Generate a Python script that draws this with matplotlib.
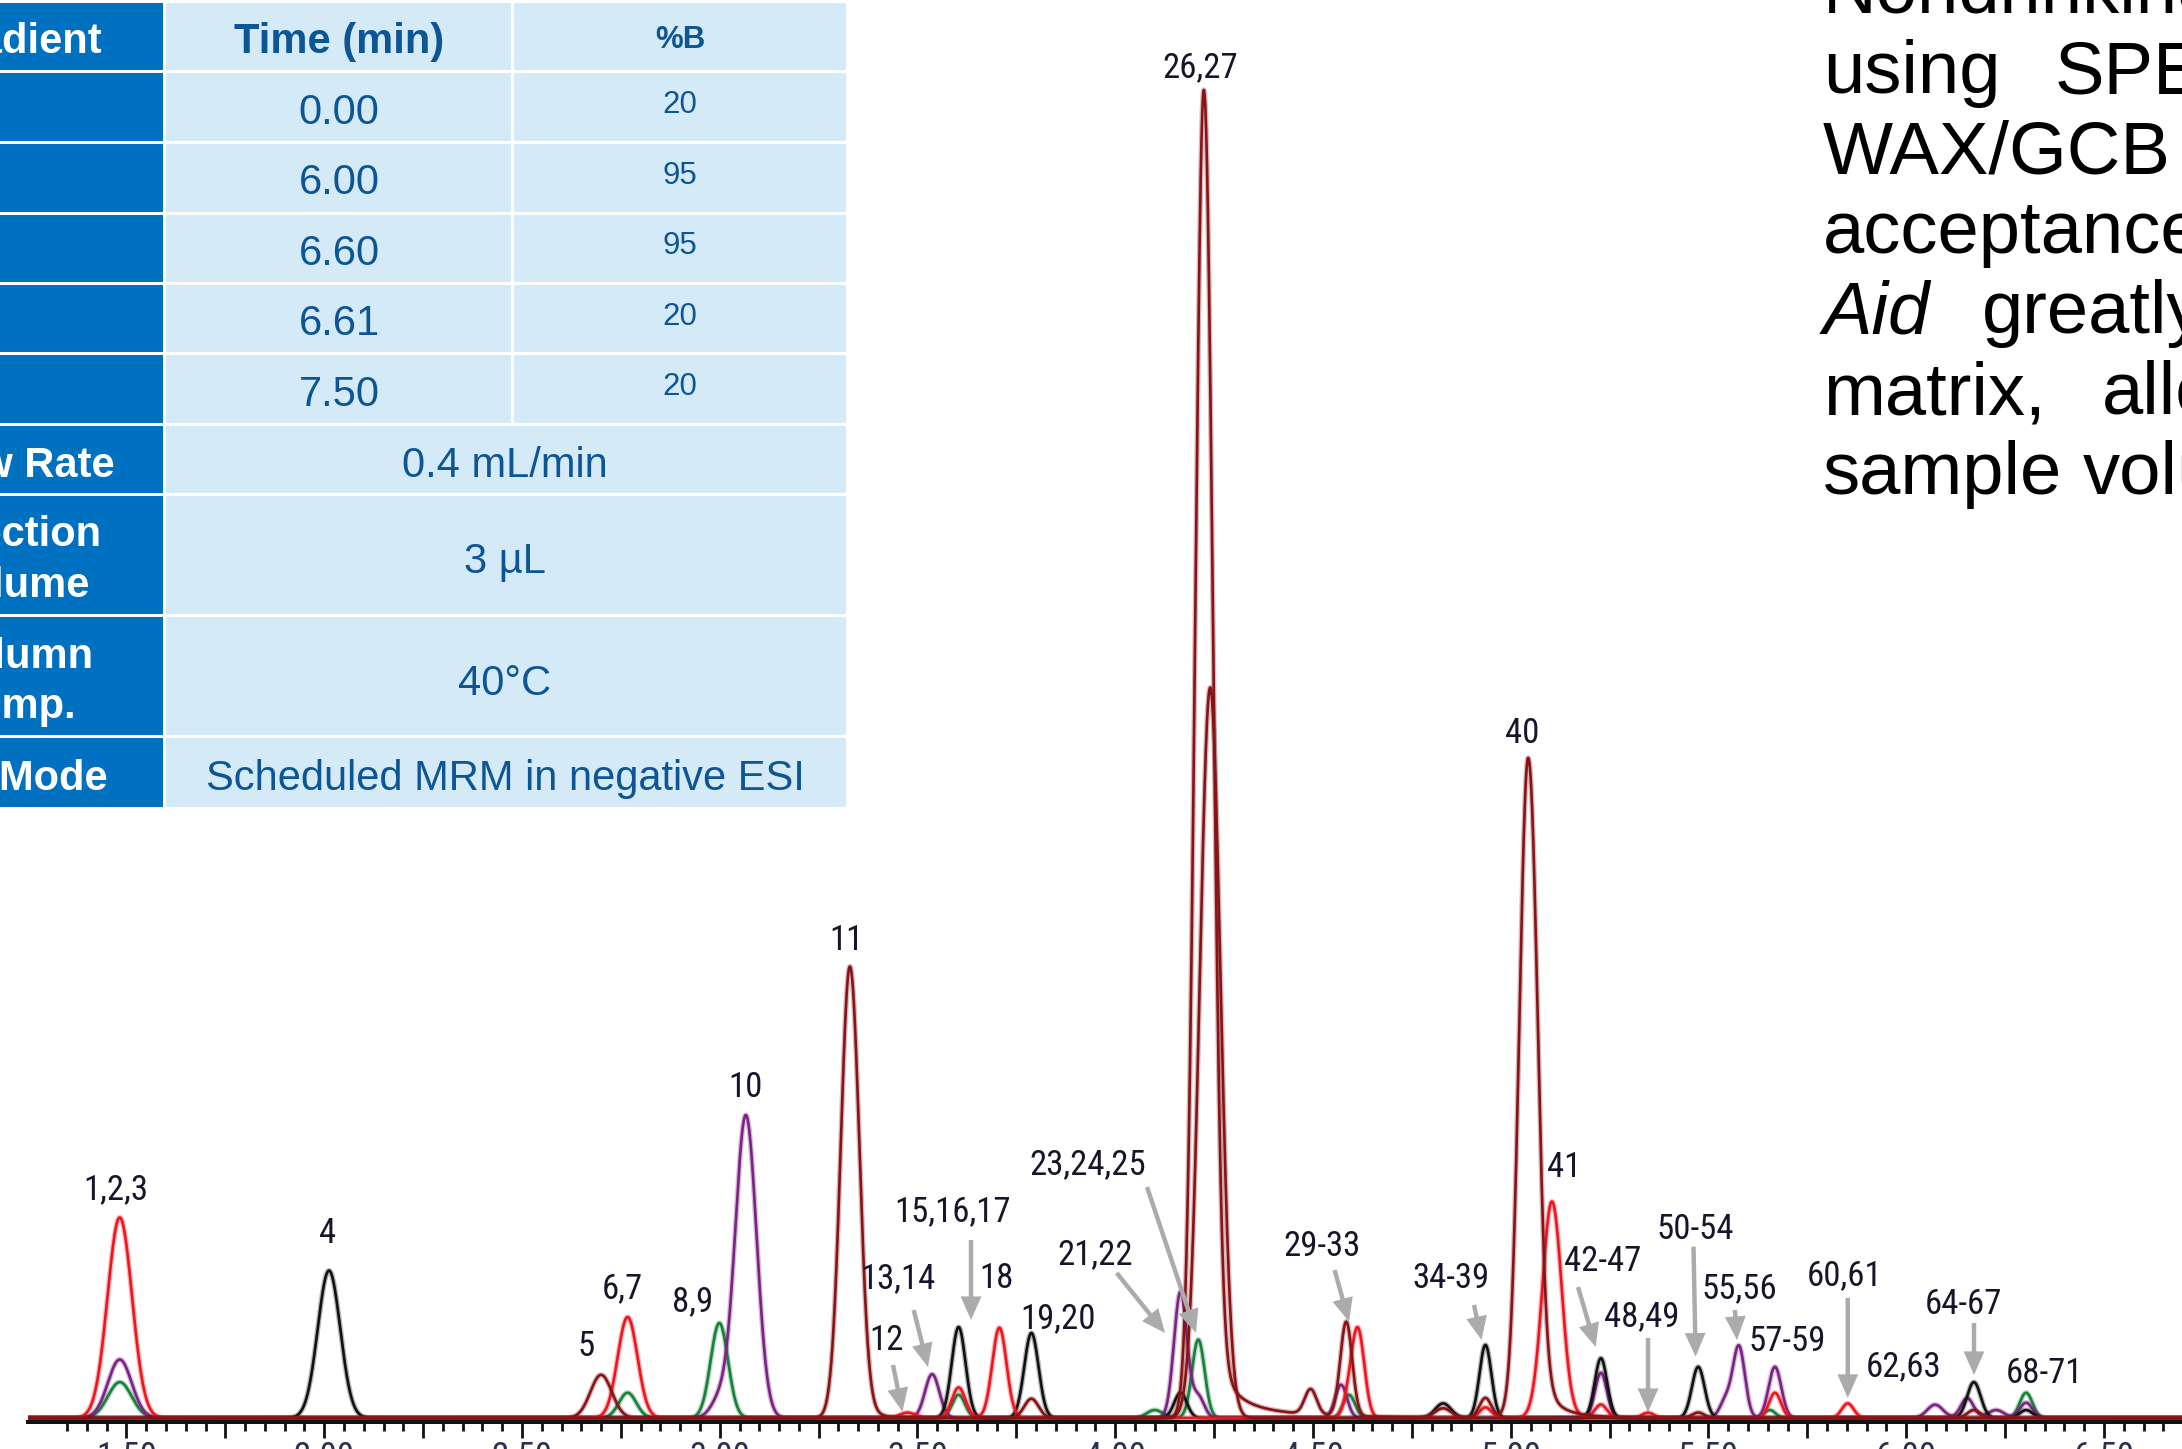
import numpy as np
import matplotlib
matplotlib.use("Agg")
import matplotlib.pyplot as plt
from matplotlib import font_manager
from matplotlib.patches import Rectangle
from matplotlib.ticker import FixedLocator, FuncFormatter

W, H = 2182, 1449

# ---------------- data ----------------
# LC conditions table
grad_time = ["0.00", "6.00", "6.60", "6.61", "7.50"]
grad_pctb = ["20", "95", "95", "20", "20"]
cond_names = ["Flow Rate", "Injection\nVolume", "Column\nTemp.", "MS Mode"]
cond_values = ["0.4 mL/min", "3 µL", "40°C", "Scheduled MRM in negative ESI"]

# paragraph at the right edge (cut off by the crop)
para_words = [["Nondrinking"], ["using", "SPE"], ["WAX/GCB"], ["acceptance"],
              ["Aid", "greatly"], ["matrix,", "allows"], ["sample", "volume"]]

# chromatogram peaks per trace: (retention time min, rel. intensity %, sigma min)
red_peaks = [(1.483, 15.1, 0.031), (2.767, 7.6, 0.025), (3.475, 0.4, 0.02),
             (3.604, 2.3, 0.017), (3.707, 6.8, 0.018), (4.591, 1.2, 0.014),
             (4.614, 6.5, 0.016), (4.936, 0.8, 0.015), (5.104, 16.3, 0.024),
             (5.228, 1.0, 0.015), (5.347, 0.4, 0.015), (5.668, 1.9, 0.015),
             (5.852, 1.1, 0.015)]
black_peaks = [(2.012, 11.1, 0.0285), (3.604, 6.85, 0.0175), (3.788, 6.4, 0.018),
               (4.165, 1.9, 0.016), (4.829, 1.1, 0.02), (4.936, 5.5, 0.015),
               (5.228, 4.5, 0.0155), (5.474, 3.85, 0.016), (6.171, 2.7, 0.017),
               (6.303, 0.6, 0.016)]
purple_peaks = [(1.483, 4.4, 0.03), (2.999, 1.3, 0.022), (3.066, 22.8, 0.027),
                (3.537, 3.3, 0.018), (4.165, 9.5, 0.0165), (4.210, 1.6, 0.015),
                (4.571, 2.5, 0.015), (5.228, 3.4, 0.015), (5.544, 1.35, 0.015),
                (5.577, 5.35, 0.015), (5.668, 3.85, 0.016), (6.073, 1.0, 0.02),
                (6.154, 1.5, 0.016), (6.227, 0.6, 0.02), (6.303, 1.15, 0.016)]
green_peaks = [(1.483, 2.7, 0.03), (2.767, 1.9, 0.022), (2.999, 7.15, 0.022),
               (3.604, 1.75, 0.016), (4.100, 0.6, 0.02), (4.210, 5.9, 0.016),
               (4.591, 1.75, 0.015), (5.655, 0.6, 0.014), (6.303, 1.9, 0.016)]
darkred_peaks = [(2.700, 3.25, 0.027), (3.329, 34.0, 0.023), (3.788, 1.45, 0.018),
                 (4.224, 100.0, 0.0215), (4.494, 1.9, 0.015), (4.584, 7.1, 0.015),
                 (4.829, 0.7, 0.02), (4.936, 1.5, 0.015), (5.044, 49.7, 0.022),
                 (5.474, 0.4, 0.015), (6.171, 0.6, 0.016)]
darkred2_peaks = [(4.240, 55.0, 0.026)]
# peak tailing: (start min, amplitude %, decay min, rise min)
red_tails = [(5.104, 1.0, 0.03, 0.024)]
darkred_tails = [(3.329, 3.0, 0.03, 0.023), (4.224, 8.0, 0.038, 0.0215),
                 (4.224, 1.66, 0.152, 0.0215), (5.044, 7.5, 0.033, 0.022),
                 (5.044, 0.6, 0.10, 0.022)]

peak_labels = ["1,2,3", "4", "5", "6,7", "8,9", "10", "11", "12", "13,14",
               "15,16,17", "18", "19,20", "21,22", "23,24,25", "26,27", "29-33",
               "34-39", "40", "41", "42-47", "48,49", "50-54", "55,56", "57-59",
               "60,61", "62,63", "64-67", "68-71"]
label_t = [1.4735, 2.0095, 2.6618, 2.7529, 2.9324, 3.0639, 3.3192, 3.4204, 3.4507,
           3.5898, 3.6985, 3.8553, 3.9488, 3.9311, 4.2143, 4.5228, 4.8490, 5.0284,
           5.1346, 5.2333, 5.3319, 5.4659, 5.5784, 5.6985, 5.8452, 5.9944, 6.1448,
           6.3483]
label_y = [17.17, 13.93, 5.35, 9.71, 8.73, 24.85, 35.92, 5.87, 10.47, 15.51, 10.47,
           7.45, 12.27, 19.05, 101.7, 12.88, 10.47, 51.58, 18.83, 11.82, 7.64,
           14.16, 9.75, 5.76, 10.69, 3.88, 8.51, 3.35]

# pointer arrows: (t from, y from, t to, y to)
arrows = [(3.438, 3.99, 3.462, 0.47), (3.4904, 8.13, 3.5266, 3.84),
          (3.6353, 13.40, 3.6353, 7.38), (4.0037, 10.92, 4.1258, 6.40),
          (4.0803, 17.39, 4.2042, 6.40), (4.5546, 11.14, 4.5910, 7.25),
          (4.9071, 8.51, 4.9261, 5.87), (5.1701, 9.86, 5.2146, 5.35),
          (5.3471, 6.02, 5.3471, 0.45), (5.4621, 12.90, 5.4674, 4.62),
          (5.5666, 8.13, 5.5721, 5.87), (5.8521, 9.04, 5.8521, 1.51),
          (6.1713, 7.15, 6.1713, 3.24)]

# ---------------- fonts ----------------
installed = {f.name for f in font_manager.fontManager.ttflist}


def pick(*names):
    for n in names:
        if n in installed:
            return n
    return "DejaVu Sans"


SANS = pick("Liberation Sans", "Arial", "DejaVu Sans")
NARROW = pick("Liberation Sans Narrow", "Roboto Condensed", "DejaVu Sans Condensed",
              "Open Sans Condensed", "Liberation Sans")

# ---------------- figure ----------------
fig = plt.figure(figsize=(W / 100, H / 100), dpi=100)
page = fig.add_axes([0, 0, 1, 1])
page.set_xlim(0, W)
page.set_ylim(H, 0)
page.axis("off")

DARK = "#0070C0"
LIGHT = "#D4EAF7"
TXT = "#0E5596"

# table cells (pixel layout of the crop)
rows = [1.5, 71.5, 142.5, 213, 283, 353.5, 424, 494.5, 615.5, 736.5, 808.5]
cols = [-200, 164, 512, 846]
g = 1.5
for i in range(len(rows) - 1):
    y0, y1 = rows[i] + g, rows[i + 1] - g
    page.add_patch(Rectangle((cols[0], y0), cols[1] - g - cols[0], y1 - y0,
                             color=DARK, lw=0))
    if i <= 5:
        page.add_patch(Rectangle((cols[1] + g, y0), cols[2] - cols[1] - 2 * g, y1 - y0,
                                 color=LIGHT, lw=0))
        page.add_patch(Rectangle((cols[2] + g, y0), cols[3] - cols[2] - g, y1 - y0,
                                 color=LIGHT, lw=0))
    else:
        page.add_patch(Rectangle((cols[1] + g, y0), cols[3] - cols[1] - g, y1 - y0,
                                 color=LIGHT, lw=0))

c2, c3, cm = 339, 680, 505
page.text(c2, 53, "Time (min)", ha="center", va="baseline", fontsize=30,
          fontweight="bold", color=TXT, family=SANS)
page.text(c3, 48.5, "%B", ha="center", va="baseline", fontsize=22.5,
          fontweight="bold", color=TXT, family=SANS)
time_base = [123.5, 193.5, 265, 335, 405.5]
pct_base = [112.7, 184, 254, 325, 395]
for tt, pb, yb1, yb2 in zip(grad_time, grad_pctb, time_base, pct_base):
    page.text(c2, yb1, tt, ha="center", va="baseline", fontsize=30, color=TXT,
              family=SANS)
    page.text(c3, yb2, pb, ha="center", va="baseline", fontsize=22.5, color=TXT,
              family=SANS)
val_base = [476.7, 573.3, 695, 790]
for v, yb in zip(cond_values, val_base):
    page.text(cm, yb, v, ha="center", va="baseline", fontsize=30, color=TXT,
              family=SANS)

# left column labels (mostly cut off by the crop)
left_base = [[53.3], [476.7], [546, 597], [668, 718], [790]]
for name, bases in zip(["Gradient"] + cond_names, left_base):
    for part, yb in zip(name.split("\n"), bases):
        page.text(16, yb, part, ha="center", va="baseline", fontsize=30,
                  fontweight="bold", color="white", family=SANS)

# justified paragraph on the right
word_x = [[1823], [1823, 2055], [1823], [1823], [1823, 1982], [1823, 2102],
          [1823, 2083]]
line_base = [13, 93, 173, 253, 333, 414, 494]
for words, xs, yb in zip(para_words, word_x, line_base):
    for w, x in zip(words, xs):
        page.text(x, yb, w, ha="left", va="baseline", fontsize=53.5, color="black",
                  family=SANS, style="italic" if w == "Aid" else "normal")

# ---------------- chromatogram ----------------
px_per_min = 395.5
x_left = 126.5 + (1.25 - 1.5) * px_per_min
x_right = 126.5 + (6.70 - 1.5) * px_per_min
ax = fig.add_axes([x_left / W, (H - 1422) / H, (x_right - x_left) / W, 1422 / H])
ax.set_facecolor("none")
ax.set_xlim(1.25, 6.70)
ax.set_ylim(-4 / 13.28, 1418 / 13.28)

t = np.linspace(1.25, 6.70, 5451)


def trace(peaks, tails=()):
    y = np.zeros_like(t)
    for rt, h, s in peaks:
        y += h * np.exp(-0.5 * ((t - rt) / s) ** 2)
    for rt, a, tau, s in tails:
        dt = np.clip(t - rt, 0, None)
        y += a * np.exp(-dt / tau) * (1 - np.exp(-(dt / s) ** 2))
    return y


series = [
    (green_peaks, (), "#16803C"),
    (purple_peaks, (), "#7A2382"),
    (black_peaks, (), "#111111"),
    (red_peaks, red_tails, "#F0141E"),
    (darkred2_peaks, (), "#861417"),
    (darkred_peaks, darkred_tails, "#861417"),
]
for pk, tl, col in series:
    y = trace(pk, tl)
    ax.plot(t, y, color=col, lw=3.8, alpha=0.3, solid_joinstyle="round")
    ax.plot(t, y, color=col, lw=1.9, solid_joinstyle="round")

for a in arrows:
    ax.annotate("", xy=(a[2], a[3]), xytext=(a[0], a[1]),
                arrowprops=dict(arrowstyle="simple,head_width=0.75,head_length=0.85,"
                                "tail_width=0.16", color="#ABABAB", lw=0,
                                shrinkA=0, shrinkB=0, mutation_scale=20))

for txt, lt, ly in zip(peak_labels, label_t, label_y):
    ax.text(lt, ly, txt, ha="center", va="center", fontsize=25, color="#16162A",
            family=NARROW)

for s in ["top", "left", "right"]:
    ax.spines[s].set_visible(False)
ax.spines["bottom"].set_linewidth(2.9)
ax.spines["bottom"].set_color("#111111")
ax.set_yticks([])
major = np.round(np.arange(1.50, 6.51, 0.25), 2)
minor = np.round(np.arange(1.35, 6.70, 0.05), 2)
ax.xaxis.set_major_locator(FixedLocator(major))
ax.xaxis.set_minor_locator(FixedLocator(minor))
ax.xaxis.set_major_formatter(FuncFormatter(
    lambda v, p: f"{v:.2f}" if abs(v * 2 - round(v * 2)) < 1e-6 else ""))
ax.tick_params(axis="x", which="major", direction="out", length=11.5, width=2,
               color="#111111", pad=2, labelsize=25, labelcolor="#2A3050")
ax.tick_params(axis="x", which="minor", direction="out", length=6.5, width=2,
               color="#111111")
for lab in ax.get_xticklabels():
    lab.set_family(NARROW)

fig.savefig("out.png", dpi=100)
